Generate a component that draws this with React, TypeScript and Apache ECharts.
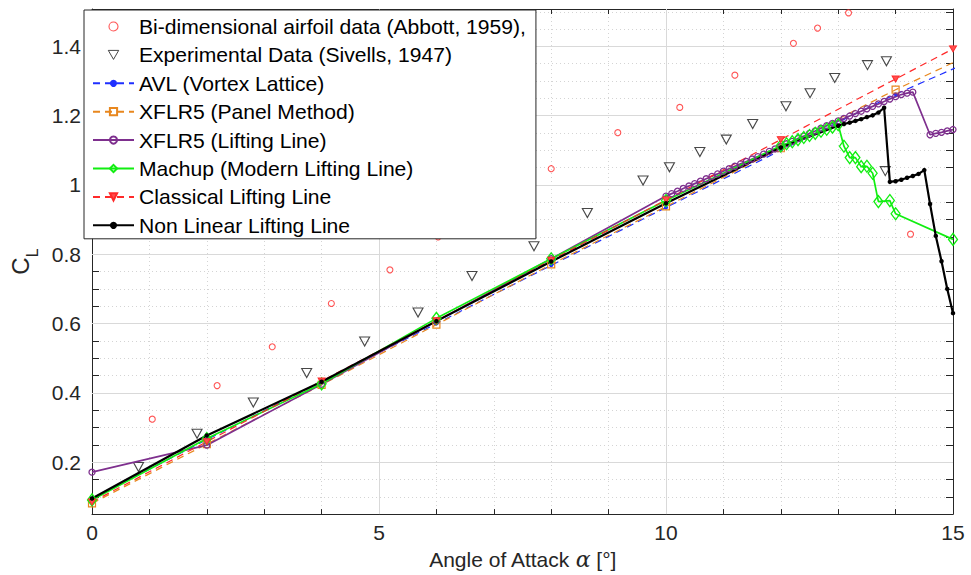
import { useEffect, useRef } from "react";
import * as echarts from "echarts";

// Bi-dimensional airfoil data (Abbott, 1959)
const abbottAlpha = [1.05, 2.18, 3.14, 4.17, 5.19, 6.03, 7.05, 8.0, 9.16, 10.24, 11.2, 12.22, 12.64, 13.18, 14.26];
const abbottCL = [0.324, 0.421, 0.533, 0.658, 0.755, 0.85, 0.952, 1.047, 1.151, 1.224, 1.317, 1.409, 1.453, 1.497, 0.858];

// Experimental data (Sivells, 1947)
const sivellsAlpha = [0.81, 1.83, 2.81, 3.74, 4.75, 5.68, 6.62, 7.7, 8.63, 9.6, 10.06, 10.59, 11.05, 11.51, 12.09, 12.51, 12.94, 13.51, 13.84, 13.82];
const sivellsCL = [0.186, 0.282, 0.372, 0.457, 0.548, 0.632, 0.737, 0.823, 0.919, 1.013, 1.051, 1.095, 1.131, 1.176, 1.227, 1.265, 1.309, 1.346, 1.357, 1.04];

// AVL (Vortex Lattice)
const avlAlpha = [0, 2, 4, 6, 8, 10, 12, 14, 16];
const avlCL = [0.095, 0.265, 0.432, 0.6, 0.768, 0.935, 1.1, 1.262, 1.408];

// XFLR5 (Panel Method)
const panelAlpha = [0, 2, 4, 6, 8, 10, 12, 14, 16];
const panelCL = [0.081, 0.252, 0.423, 0.597, 0.771, 0.938, 1.106, 1.275, 1.431];

// XFLR5 (Lifting Line)
const xflrLLAlpha = [
  0, 2, 4, 6, 8, 10,
  10.1, 10.2, 10.3, 10.4, 10.5, 10.6, 10.7, 10.8, 10.9, 11.0,
  11.1, 11.2, 11.3, 11.4, 11.5, 11.6, 11.7, 11.8, 11.9, 12.0,
  12.1, 12.2, 12.3, 12.4, 12.5, 12.6, 12.7, 12.8, 12.9, 13.0,
  13.1, 13.2, 13.3, 13.4, 13.5, 13.6, 13.7, 13.8, 13.9, 14.0,
  14.1, 14.2, 14.3,
  14.6, 14.7, 14.8, 14.9, 15.0,
];
const xflrLLCL = [
  0.171, 0.249, 0.425, 0.607, 0.787, 0.968,
  0.975, 0.982, 0.99, 0.997, 1.004, 1.011, 1.018, 1.025, 1.032, 1.04,
  1.047, 1.054, 1.061, 1.068, 1.075, 1.082, 1.089, 1.097, 1.104, 1.111,
  1.119, 1.126, 1.134, 1.141, 1.149, 1.156, 1.164, 1.171, 1.178, 1.185,
  1.192, 1.199, 1.206, 1.213, 1.22, 1.227, 1.234, 1.241, 1.248, 1.255,
  1.261, 1.265, 1.268,
  1.145, 1.149, 1.152, 1.156, 1.16,
];

// Machup (Modern Lifting Line)
const machupAlpha = [
  0, 2, 4, 6, 8, 10,
  12.0, 12.1, 12.2, 12.3, 12.4, 12.5, 12.6, 12.7, 12.8, 12.9, 13.0,
  13.1, 13.2, 13.3, 13.4, 13.5, 13.6, 13.7, 13.9, 14.0, 15.0,
];
const machupCL = [
  0.091, 0.268, 0.426, 0.615, 0.787, 0.955,
  1.113, 1.119, 1.125, 1.131, 1.137, 1.143, 1.149, 1.155, 1.161, 1.167, 1.174,
  1.112, 1.079, 1.079, 1.053, 1.054, 1.034, 0.952, 0.955, 0.917, 0.843,
];

// Classical Lifting Line
const classicalAlpha = [0, 2, 4, 6, 8, 10, 12, 14, 15];
const classicalCL = [0.085, 0.259, 0.434, 0.608, 0.783, 0.957, 1.131, 1.306, 1.393];

// Non Linear Lifting Line
const nllAlpha = [
  0, 2, 4, 6, 8, 10, 12,
  13.0, 13.1, 13.2, 13.3, 13.4, 13.5, 13.6, 13.7, 13.8,
  13.9, 14.0, 14.1, 14.2, 14.3, 14.4, 14.5,
  14.6, 14.7, 14.8, 14.9, 15.0,
];
const nllCL = [
  0.095, 0.277, 0.432, 0.607, 0.779, 0.947, 1.108,
  1.171, 1.176, 1.18, 1.185, 1.19, 1.196, 1.201, 1.209, 1.223,
  1.009, 1.011, 1.015, 1.021, 1.026, 1.032, 1.043,
  0.945, 0.853, 0.78, 0.7, 0.63,
];

// Axis layout
const alphaMajorTicks = [5, 10];
const clMajorTicks = [0.2, 0.4, 0.6, 0.8, 1.0, 1.2, 1.4];

const seriesNames = [
  "Bi-dimensional airfoil data (Abbott, 1959),",
  "Experimental Data (Sivells, 1947)",
  "AVL (Vortex Lattice)",
  "XFLR5 (Panel Method)",
  "XFLR5 (Lifting Line)",
  "Machup (Modern Lifting Line)",
  "Classical Lifting Line",
  "Non Linear Lifting Line",
];

const FONT = "'Liberation Sans', Arial, Helvetica, sans-serif";
const AXIS_COLOR = "#262626";
const ABBOTT_COLOR = "#ff2a2a";
const SIVELLS_COLOR = "#1a1a1a";

// Small legend glyphs for the two measured data sets
const DOWN_TRIANGLE = "path://M0,0L10,0L5,8.66Z";
const SMALL_CIRCLE = "path://M7,3.5A3.5,3.5,0,1,1,0,3.5A3.5,3.5,0,1,1,7,3.5Z";

const pairs = (xs: number[], ys: number[]) => xs.map((x, i) => [x, ys[i]]);

const isMultiple = (v: number, step: number) => {
  const k = v / step;
  return Math.abs(k - Math.round(k)) < 1e-6;
};

function buildOption(): echarts.EChartsCoreOption {
  const hollow = (color: string, width = 1.2) => ({
    color: "rgba(0,0,0,0)",
    borderColor: color,
    borderWidth: width,
  });

  const boxAxis = {
    axisLine: { show: true, onZero: false, lineStyle: { color: AXIS_COLOR, width: 1 } },
    axisLabel: { show: false },
    splitLine: { show: false },
  };

  return {
    animation: false,
    backgroundColor: "#fff",
    grid: { left: 83, right: 18, top: 9, bottom: 52 },
    legend: {
      orient: "vertical",
      left: 84,
      top: 10,
      padding: [6, 10, 3, 8],
      itemGap: 7.4,
      itemWidth: 41,
      itemHeight: 9,
      backgroundColor: "#fff",
      borderColor: AXIS_COLOR,
      borderWidth: 1,
      borderRadius: 0,
      selectedMode: false,
      textStyle: { fontSize: 21.1, fontFamily: FONT, color: "#000", lineHeight: 21 },
      data: seriesNames.map((name, i) => {
        if (i === 0) return { name, icon: SMALL_CIRCLE, itemStyle: hollow(ABBOTT_COLOR, 1.1) };
        if (i === 1) return { name, icon: DOWN_TRIANGLE, itemStyle: hollow(SIVELLS_COLOR, 1) };
        return { name };
      }),
      z: 6,
    },
    xAxis: [
      {
        type: "value",
        min: 0,
        max: 15,
        interval: 1,
        position: "bottom",
        axisLine: { show: true, onZero: false, lineStyle: { color: AXIS_COLOR, width: 1 } },
        axisTick: { show: true, inside: true, length: 5, lineStyle: { color: AXIS_COLOR } },
        axisLabel: {
          fontSize: 21,
          fontFamily: FONT,
          color: AXIS_COLOR,
          margin: 8,
          formatter: (v: number) => (isMultiple(v, 5) ? String(Math.round(v)) : ""),
        },
        splitLine: { show: true, lineStyle: { color: "#d4d4d4", type: [1, 3], width: 1 } },
        name: "Angle of Attack {a|α} [°]",
        nameLocation: "middle",
        nameGap: 31,
        nameTextStyle: {
          fontSize: 21,
          fontFamily: FONT,
          color: AXIS_COLOR,
          rich: {
            a: { fontSize: 22, fontFamily: "'DejaVu Serif', serif", fontStyle: "italic", color: AXIS_COLOR },
          },
        },
      },
      {
        ...boxAxis,
        type: "value",
        min: 0,
        max: 15,
        interval: 1,
        position: "top",
        axisTick: { show: true, inside: true, length: 5, lineStyle: { color: AXIS_COLOR } },
      },
    ],
    yAxis: [
      {
        type: "value",
        min: 0.05,
        max: 1.508,
        interval: 0.05,
        position: "left",
        axisLine: { show: true, onZero: false, lineStyle: { color: AXIS_COLOR, width: 1 } },
        axisTick: { show: true, inside: true, length: 7, lineStyle: { color: AXIS_COLOR } },
        axisLabel: {
          fontSize: 21,
          fontFamily: FONT,
          color: AXIS_COLOR,
          margin: 11,
          formatter: (v: number) => (isMultiple(v, 0.2) ? String(Math.round(v * 10) / 10) : ""),
        },
        splitLine: { show: true, lineStyle: { color: "#d4d4d4", type: [1, 3], width: 1 } },
        name: "{c|C}{l|L}",
        nameLocation: "middle",
        nameRotate: 90,
        nameGap: 52,
        nameTextStyle: {
          rich: {
            c: { fontSize: 24, fontFamily: FONT, color: AXIS_COLOR, padding: [0, 0, 8, 0], verticalAlign: "bottom" },
            l: { fontSize: 16, fontFamily: FONT, color: AXIS_COLOR, verticalAlign: "bottom" },
          },
        },
      },
      {
        ...boxAxis,
        type: "value",
        min: 0.05,
        max: 1.508,
        interval: 0.05,
        position: "right",
        axisTick: { show: true, inside: true, length: 7, lineStyle: { color: AXIS_COLOR } },
      },
    ],
    series: [
      {
        name: seriesNames[0],
        type: "scatter",
        data: pairs(abbottAlpha, abbottCL),
        symbol: "circle",
        symbolSize: 6,
        itemStyle: hollow(ABBOTT_COLOR, 1.1),
        markLine: {
          silent: true,
          z: 1,
          symbol: "none",
          label: { show: false },
          lineStyle: { color: "#d9d9d9", type: "solid", width: 1 },
          emphasis: { disabled: true },
          data: [
            ...alphaMajorTicks.map((v) => ({ xAxis: v })),
            ...clMajorTicks.map((v) => ({ yAxis: v })),
          ],
        },
      },
      {
        name: seriesNames[1],
        type: "scatter",
        data: pairs(sivellsAlpha, sivellsCL),
        symbol: "triangle",
        symbolRotate: 180,
        symbolSize: [10, 9],
        itemStyle: hollow(SIVELLS_COLOR, 1.1),
      },
      {
        name: seriesNames[2],
        type: "line",
        data: pairs(avlAlpha, avlCL),
        showAllSymbol: true,
        symbol: "circle",
        symbolSize: 4,
        itemStyle: { color: "#1f2fff" },
        lineStyle: { color: "#1f2fff", width: 1.2, type: [7, 5] },
      },
      {
        name: seriesNames[3],
        type: "line",
        data: pairs(panelAlpha, panelCL),
        showAllSymbol: true,
        symbol: "rect",
        symbolSize: 7,
        itemStyle: hollow("#e8871e", 1.2),
        lineStyle: { color: "#e8871e", width: 1.2, type: [7, 5] },
      },
      {
        name: seriesNames[4],
        type: "line",
        data: pairs(xflrLLAlpha, xflrLLCL),
        showAllSymbol: true,
        symbol: "circle",
        symbolSize: 6,
        itemStyle: hollow("#7e2f8e", 1.3),
        lineStyle: { color: "#7e2f8e", width: 1.7 },
      },
      {
        name: seriesNames[5],
        type: "line",
        data: pairs(machupAlpha, machupCL),
        showAllSymbol: true,
        symbol: "diamond",
        symbolSize: [9, 12],
        itemStyle: hollow("#11ee11", 1.3),
        lineStyle: { color: "#11ee11", width: 1.7 },
      },
      {
        name: seriesNames[6],
        type: "line",
        data: pairs(classicalAlpha, classicalCL),
        showAllSymbol: true,
        symbol: "triangle",
        symbolRotate: 180,
        symbolSize: [7, 6],
        itemStyle: { color: "#ff5050", borderColor: ABBOTT_COLOR, borderWidth: 1 },
        lineStyle: { color: ABBOTT_COLOR, width: 1.2, type: [7, 5] },
      },
      {
        name: seriesNames[7],
        type: "line",
        data: pairs(nllAlpha, nllCL),
        showAllSymbol: true,
        symbol: "circle",
        symbolSize: 4.5,
        itemStyle: { color: "#000" },
        lineStyle: { color: "#000", width: 2.2 },
      },
    ],
  };
}

export default function App() {
  const ref = useRef<HTMLDivElement>(null);
  useEffect(() => {
    if (!ref.current) return;
    const chart = echarts.init(ref.current, null, { renderer: "svg" });
    chart.setOption(buildOption());
    return () => chart.dispose();
  }, []);
  return (
    <div
      ref={ref}
      style={{ position: "fixed", left: 0, top: 0, width: 971, height: 575, background: "#fff" }}
    />
  );
}
